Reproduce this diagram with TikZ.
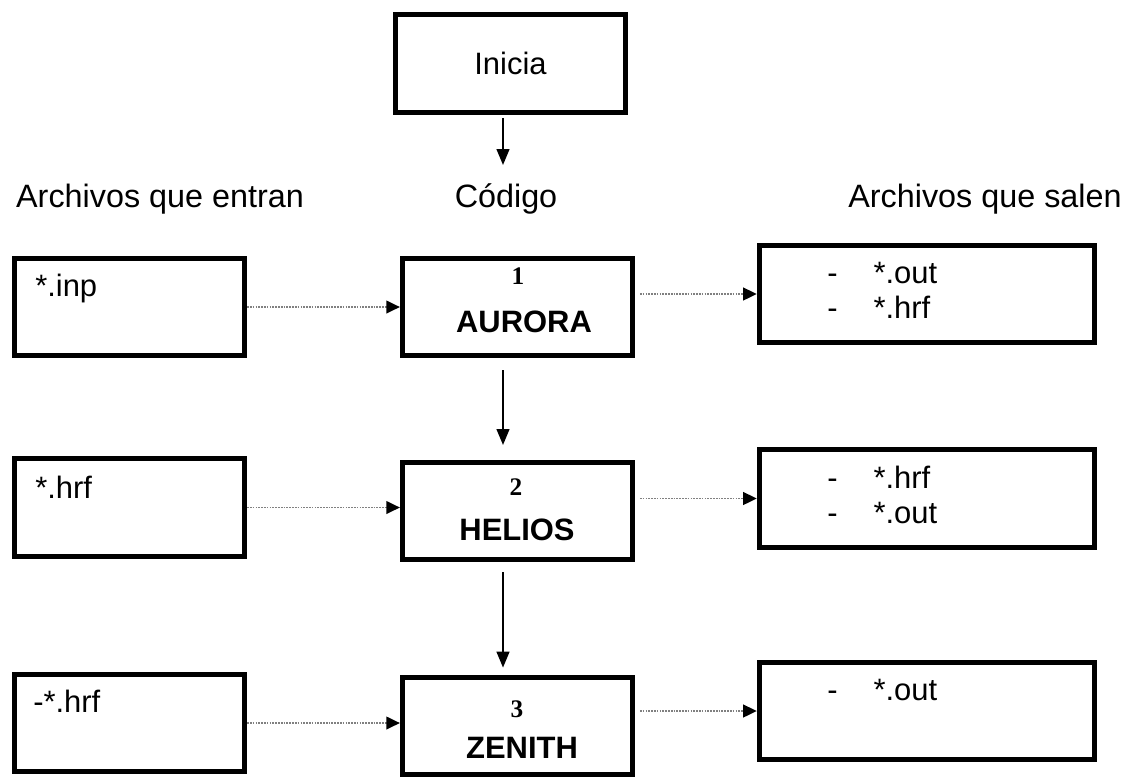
\documentclass[tikz,border=0pt]{standalone}
\usepackage{fontspec}
\setmainfont{Liberation Sans}
\newfontfamily\numfont{Liberation Serif}
\usetikzlibrary{arrows.meta}

\begin{document}
\begin{tikzpicture}[x=0.025cm,y=-0.025cm,
    caja/.style={draw,line width=3.4pt,inner sep=0pt,minimum height=2.44cm},
    txt/.style={inner sep=0pt,font=\fontsize{22}{25}\selectfont},
    cab/.style={inner sep=0pt,font=\fontsize{23}{26}\selectfont},
    num/.style={inner sep=0pt,font=\fontsize{18}{20}\numfont\bfseries},
    flecha/.style={line width=1.4pt,-{Triangle[length=0.4cm,width=0.32cm]}},
    punteada/.style={line width=1.1pt,black!50,dash pattern=on 1.2pt off 0.8pt,
        -{Triangle[length=0.34cm,width=0.32cm,color=black]}}]
            \useasboundingbox (0,0) rectangle (1122,779);

            \node[caja,minimum width=5.76cm,minimum height=2.46cm,txt] (I) at (510.5,63.5) {Inicia};
            \coordinate (t0) at (503,165);

            \node[cab,anchor=base] (He) at (160,207) {Archivos que entran};
            \node[cab,anchor=base] (Hc) at (506,207) {Código};
            \node[cab,anchor=base] (Hs) at (985,207) {Archivos que salen};

            % fila 1
            \node[caja,minimum width=5.76cm] (E1) at (129.5,307) {};
            \node[txt,anchor=base west] (e1) at (35,296) {*.inp};
            \node[caja,minimum width=5.76cm] (C1) at (517.5,307) {};
            \node[num,anchor=base] (n1) at (518,284) {1};
            \node[txt,anchor=base,font=\fontsize{22}{25}\selectfont\bfseries] (c1) at (524,332) {AURORA};
            \node[caja,minimum width=8.39cm] (S1) at (927,294) {};
            \node[txt,anchor=base west] (s1a) at (827,283) {-\hspace{0.9cm}*.out};
            \node[txt,anchor=base west] (s1b) at (827,318) {-\hspace{0.9cm}*.hrf};

            % fila 2
            \node[caja,minimum width=5.76cm] (E2) at (129.5,507.5) {};
            \node[txt,anchor=base west] (e2) at (35,498) {*.hrf};
            \node[caja,minimum width=5.76cm] (C2) at (517.5,511) {};
            \node[num,anchor=base] (n2) at (516,495) {2};
            \node[txt,anchor=base,font=\fontsize{22}{25}\selectfont\bfseries] (c2) at (517,540) {HELIOS};
            \node[caja,minimum width=8.39cm] (S2) at (927,498.5) {};
            \node[txt,anchor=base west] (s2a) at (827,488) {-\hspace{0.9cm}*.hrf};
            \node[txt,anchor=base west] (s2b) at (827,523) {-\hspace{0.9cm}*.out};

            % fila 3
            \node[caja,minimum width=5.76cm] (E3) at (129.5,723) {};
            \node[txt,anchor=base west] (e3) at (33,712) {-*.hrf};
            \node[caja,minimum width=5.76cm] (C3) at (517.5,726) {};
            \node[num,anchor=base] (n3) at (517,717) {3};
            \node[txt,anchor=base,font=\fontsize{22}{25}\selectfont\bfseries] (c3) at (522,758) {ZENITH};
            \node[caja,minimum width=8.39cm] (S3) at (927,711) {};
            \node[txt,anchor=base west] (s3) at (827,700) {-\hspace{0.9cm}*.out};

            \draw[flecha,shorten <=0.07cm] (I.south -| t0) -- (t0);
            \draw[flecha,shorten <=0.3cm,shorten >=0.37cm] (C1.south -| t0) -- (C2.north -| t0);
            \draw[flecha,shorten <=0.25cm,shorten >=0.18cm] (C2.south -| t0) -- (C3.north -| t0);

            \draw[punteada] (E1.east) -- (C1.west |- E1.east);
            \draw[punteada] (E2.east) -- (C2.west |- E2.east);
            \draw[punteada] (E3.east) -- (C3.west |- E3.east);
            \draw[punteada,shorten <=0.12cm] (C1.east |- S1.west) -- (S1.west);
            \draw[punteada,shorten <=0.12cm] (C2.east |- S2.west) -- (S2.west);
            \draw[punteada,shorten <=0.12cm] (C3.east |- S3.west) -- (S3.west);
          \end{tikzpicture}
\end{document}
